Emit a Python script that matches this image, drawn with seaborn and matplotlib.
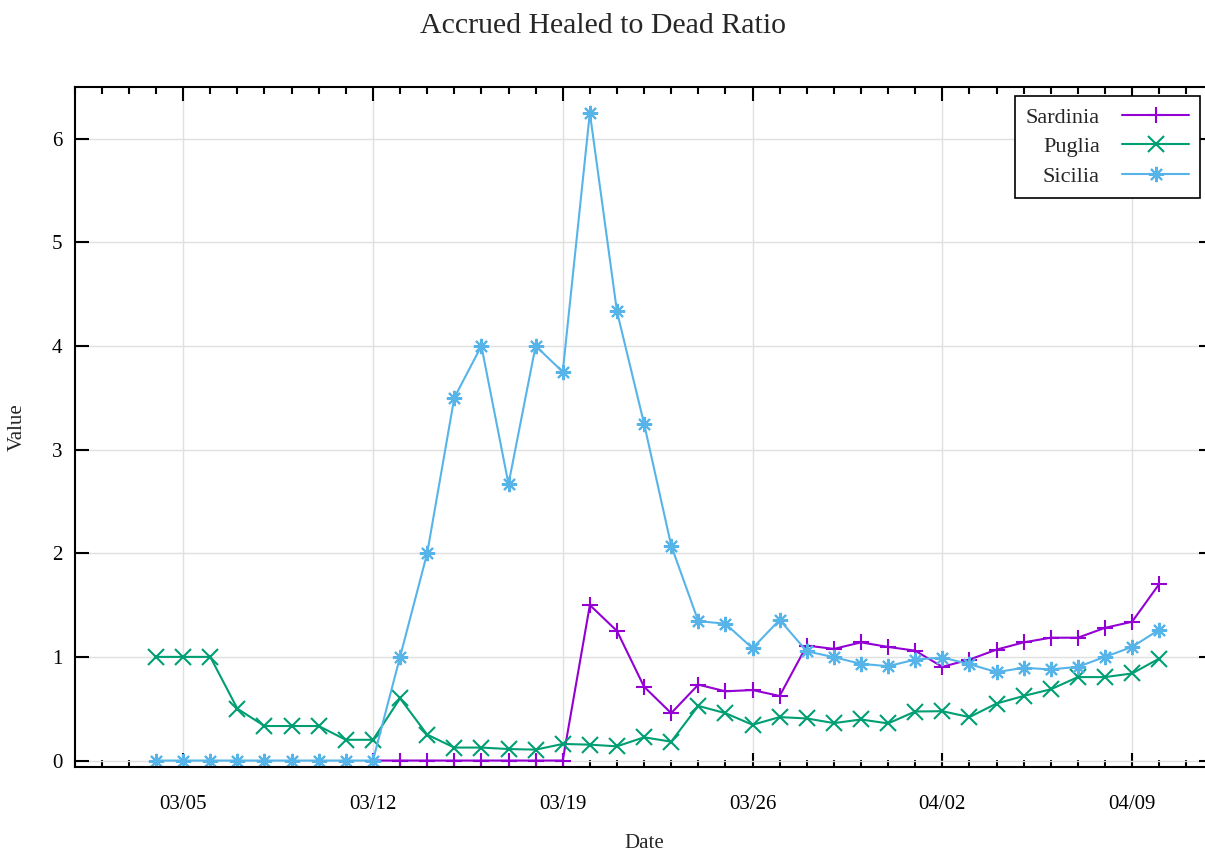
import numpy as np
import pandas as pd
import matplotlib
matplotlib.use("Agg")
import matplotlib.pyplot as plt
import matplotlib.dates as mdates
import seaborn as sns

dates = pd.date_range("2020-03-04", "2020-04-10", freq="D")

nan = np.nan
sardinia = [nan, nan, nan, nan, nan, nan, nan, nan,
            0, 0, 0, 0, 0, 0, 0, 0,
            1.5, 1.25, 0.712, 0.457, 0.732, 0.668, 0.68, 0.623, 1.109, 1.077, 1.14, 1.096,
            1.06, 0.904, 0.974, 1.07, 1.14, 1.185, 1.185, 1.28, 1.339, 1.703]
puglia = [1.0, 1.0, 1.0, 0.5, 0.333, 0.333, 0.333, 0.2, 0.2, 0.6, 0.25, 0.125, 0.125,
          0.111, 0.105, 0.16, 0.153, 0.137, 0.224, 0.182, 0.527, 0.457, 0.345, 0.419,
          0.406, 0.361, 0.396, 0.358, 0.473, 0.476, 0.419, 0.55, 0.623, 0.687, 0.805,
          0.805, 0.84, 0.984]
sicilia = [0, 0, 0, 0, 0, 0, 0, 0, 0,
           1.0, 2.0, 3.5, 4.0, 2.667, 4.0, 3.75, 6.25, 4.333, 3.25, 2.074, 1.345, 1.32,
           1.083, 1.358, 1.054, 0.997, 0.933, 0.91, 0.974, 0.994, 0.93, 0.853, 0.895,
           0.879, 0.904, 1.0, 1.096, 1.262]

regions = ["Sardinia", "Puglia", "Sicilia"]
series = [sardinia, puglia, sicilia]
colors = {"Sardinia": "#9400D3", "Puglia": "#009E73", "Sicilia": "#56B4E9"}
markers = {"Sardinia": "+", "Puglia": "x", "Sicilia": (8, 2, 0)}
tick_dates = pd.to_datetime(["2020-03-05", "2020-03-12", "2020-03-19",
                             "2020-03-26", "2020-04-02", "2020-04-09"])

df = pd.concat([pd.DataFrame({"Date": dates, "Value": vals, "Region": name})
                for name, vals in zip(regions, series)], ignore_index=True).dropna()

sns.set_style("ticks")
plt.rcParams["font.family"] = ["Liberation Serif", "DejaVu Serif"]

fig = plt.figure(figsize=(12.05, 8.51), dpi=100)
ax = fig.add_axes([0.062, 0.099, 0.945, 0.799])

sns.lineplot(data=df, x="Date", y="Value", hue="Region", style="Region",
             hue_order=regions, style_order=regions, palette=colors,
             markers=markers, dashes=False, markersize=11, markeredgewidth=1.5,
             linewidth=1.5, ax=ax)
for ln in ax.get_lines():
    ln.set_markeredgecolor(ln.get_color())

ax.set_xlim(pd.Timestamp("2020-03-01"), pd.Timestamp("2020-04-12"))
ax.set_ylim(-0.06, 6.5)
ax.set_xticks(tick_dates)
ax.xaxis.set_major_formatter(mdates.DateFormatter("%m/%d"))
ax.xaxis.set_minor_locator(mdates.DayLocator())
ax.set_yticks(range(0, 7))

ax.grid(True, which="major", color="#e0e0e0", linewidth=1)
ax.set_axisbelow(True)
for s in ax.spines.values():
    s.set_color("black")
    s.set_linewidth(1.5)

ax.tick_params(axis="both", which="both", direction="in", top=True, right=True,
               colors="black", labelsize=15)
ax.tick_params(axis="x", which="major", length=10, width=1.5, pad=20)
ax.tick_params(axis="x", which="minor", length=5, width=1.5)
ax.tick_params(axis="y", which="major", length=10, width=1.5, pad=9)

ax.set_xlabel("Date", fontsize=15, labelpad=15)
ax.set_ylabel("Value", fontsize=15, labelpad=18)
fig.suptitle("Accrued Healed to Dead Ratio", fontsize=21.5, y=0.985)

leg = ax.legend(loc="upper right", bbox_to_anchor=(1200 / 1205, 1 - 96 / 851),
                bbox_transform=fig.transFigure, borderaxespad=0,
                markerfirst=False, fontsize=16, frameon=True,
                fancybox=False, edgecolor="black", framealpha=1,
                handlelength=3.0, handletextpad=1.0, borderpad=0.5,
                labelspacing=0.4)
leg.get_frame().set_linewidth(1.2)
for h in leg.legend_handles:
    h.set_markeredgecolor(h.get_color())

fig.savefig("out.png", dpi=100)
